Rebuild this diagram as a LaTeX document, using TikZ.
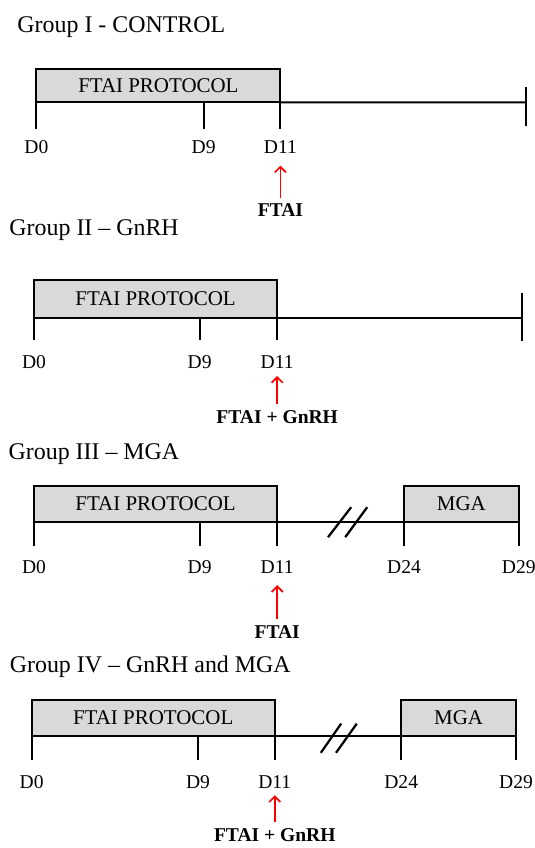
\documentclass[tikz,border=0pt]{standalone}
\usepackage{fontspec}
\setmainfont{Liberation Serif}
\usetikzlibrary{arrows.meta}

\begin{document}
\begin{tikzpicture}[
        grouptitle/.style={anchor=base west, inner sep=0pt, font=\fontsize{17}{20}\selectfont},
        protbox/.style={rectangle, draw=black, fill=gray!30, line width=1.4pt, anchor=north west, inner sep=0pt, outer sep=0pt, font=\fontsize{14.9}{18}\selectfont},
        dayl/.style={anchor=base, inner sep=0pt, font=\fontsize{13.9}{16}\selectfont},
        treat/.style={anchor=base, inner sep=0pt, font=\fontsize{13.9}{16}\selectfont\bfseries},
        tick/.style={line width=1.4pt},
        timeline/.style={line width=1.5pt},
        brk/.style={line width=1.6pt},
        arrow/.style={->, >={Straight Barb[length=4pt, width=8pt]}, draw=red, line width=1.2pt, shorten <=4pt}
    ]
    \useasboundingbox (0,0) rectangle (13.375,-21.2);

    % Group I
    \node[grouptitle] (g1) at (0.43,-0.81) {Group I - CONTROL};
    \node[protbox, minimum width=6.10cm, minimum height=0.83cm] (prot1) at (0.91,-1.73) {FTAI PROTOCOL};
    \coordinate (end1) at (13.14,-2.56);
    \draw[timeline] (prot1.south east) -- (end1);
    \draw[tick] (0.91,-2.56) -- (0.91,-3.23);
    \draw[tick] (5.09,-2.56) -- (5.09,-3.23);
    \draw[tick] (7.01,-2.56) -- (7.01,-3.23);
    \draw[tick] (13.14,-2.18) -- (13.14,-3.15);
    \node[dayl] (d0a) at (0.91,-3.85) {D0};
    \node[dayl] (d9a) at (5.09,-3.85) {D9};
    \node[dayl] (d11a) at (7.01,-3.85) {D11};
    \node[treat] (tr1) at (7.01,-5.42) {FTAI};
    \coordinate (tip1) at (7.01,-4.14);
    \draw[arrow] (tr1.north) -- (tip1);

    % Group II
    \node[grouptitle] (g2) at (0.23,-5.90) {Group II -- GnRH};
    \node[protbox, minimum width=6.08cm, minimum height=0.94cm] (prot2) at (0.85,-7.00) {FTAI PROTOCOL};
    \coordinate (end2) at (13.05,-7.94);
    \draw[timeline] (prot2.south east) -- (end2);
    \draw[tick] (0.85,-7.94) -- (0.85,-8.49);
    \draw[tick] (4.99,-7.94) -- (4.99,-8.49);
    \draw[tick] (6.93,-7.94) -- (6.93,-8.49);
    \draw[tick] (13.05,-7.33) -- (13.05,-8.52);
    \node[dayl] (d0b) at (0.85,-9.21) {D0};
    \node[dayl] (d9b) at (4.99,-9.21) {D9};
    \node[dayl] (d11b) at (6.93,-9.21) {D11};
    \node[treat] (tr2) at (6.93,-10.58) {FTAI + GnRH};
    \coordinate (tip2) at (6.93,-9.40);
    \draw[arrow] (tr2.north) -- (tip2);

    % Group III
    \node[grouptitle] (g3) at (0.21,-11.48) {Group III -- MGA};
    \node[protbox, minimum width=6.08cm, minimum height=0.91cm] (prot3) at (0.85,-12.14) {FTAI PROTOCOL};
    \node[protbox, minimum width=2.87cm, minimum height=0.91cm] (mga3) at (10.10,-12.14) {MGA};
    \draw[timeline] (prot3.south east) -- (mga3.south west);
    \draw[brk] (8.20,-13.43) -- (8.78,-12.68);
    \draw[brk] (8.63,-13.43) -- (9.18,-12.68);
    \draw[tick] (0.85,-13.05) -- (0.85,-13.65);
    \draw[tick] (4.99,-13.05) -- (4.99,-13.65);
    \draw[tick] (6.93,-13.05) -- (6.93,-13.65);
    \draw[tick] (10.10,-13.05) -- (10.10,-13.65);
    \draw[tick] (12.97,-13.05) -- (12.97,-13.65);
    \node[dayl] (d0c) at (0.85,-14.33) {D0};
    \node[dayl] (d9c) at (4.99,-14.33) {D9};
    \node[dayl] (d11c) at (6.93,-14.33) {D11};
    \node[dayl] (d24c) at (10.10,-14.33) {D24};
    \node[dayl] (d29c) at (12.97,-14.33) {D29};
    \node[treat] (tr3) at (6.93,-15.95) {FTAI};
    \coordinate (tip3) at (6.93,-14.63);
    \draw[arrow] (tr3.north) -- (tip3);

    % Group IV
    \node[grouptitle] (g4) at (0.24,-16.81) {Group IV -- GnRH and MGA};
    \node[protbox, minimum width=6.08cm, minimum height=0.90cm] (prot4) at (0.79,-17.49) {FTAI PROTOCOL};
    \node[protbox, minimum width=2.87cm, minimum height=0.90cm] (mga4) at (10.03,-17.49) {MGA};
    \draw[timeline] (prot4.south east) -- (mga4.south west);
    \draw[brk] (8.02,-18.82) -- (8.53,-18.09);
    \draw[brk] (8.40,-18.82) -- (8.92,-18.09);
    \draw[tick] (0.79,-18.39) -- (0.79,-18.99);
    \draw[tick] (4.95,-18.39) -- (4.95,-18.99);
    \draw[tick] (6.87,-18.39) -- (6.87,-18.99);
    \draw[tick] (10.03,-18.39) -- (10.03,-18.99);
    \draw[tick] (12.90,-18.39) -- (12.90,-18.99);
    \node[dayl] (d0d) at (0.79,-19.71) {D0};
    \node[dayl] (d9d) at (4.95,-19.71) {D9};
    \node[dayl] (d11d) at (6.87,-19.71) {D11};
    \node[dayl] (d24d) at (10.03,-19.71) {D24};
    \node[dayl] (d29d) at (12.90,-19.71) {D29};
    \node[treat] (tr4) at (6.87,-21.03) {FTAI + GnRH};
    \coordinate (tip4) at (6.87,-19.88);
    \draw[arrow] (tr4.north) -- (tip4);

\end{tikzpicture}
\end{document}
